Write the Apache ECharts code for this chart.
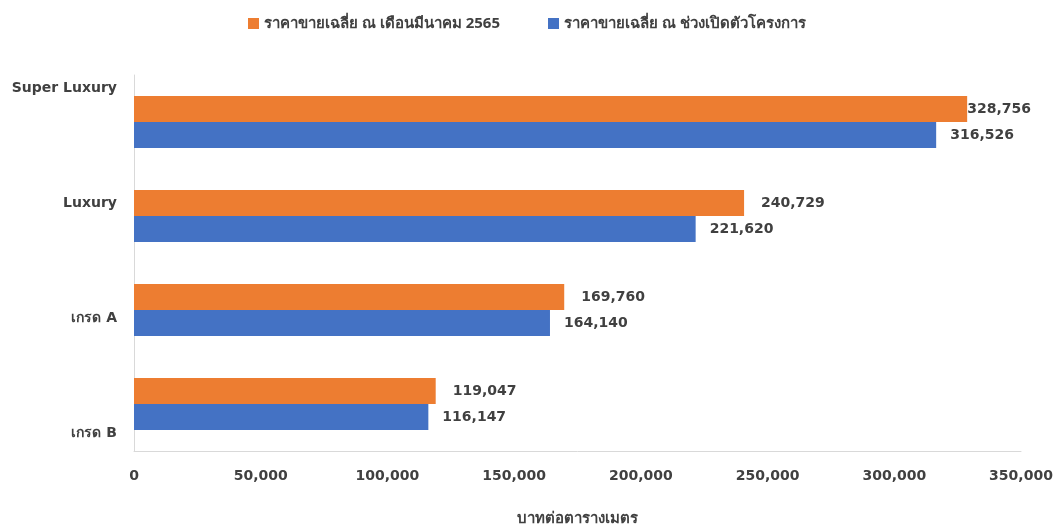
<!DOCTYPE html>
<html>
<head>
<meta charset="utf-8">
<script src="https://cdn.jsdelivr.net/npm/echarts@6/dist/echarts.min.js"></script>
<style>
  html, body { margin: 0; padding: 0; background: #ffffff; }
  #chart { width: 1055px; height: 527px; }
</style>
</head>
<body>
<div id="chart"></div>
<script>
// Price categories (top to bottom)
const categories = ['Super Luxury', 'Luxury', 'เกรด A', 'เกรด B'];

// Average selling price, THB per square metre
const seriesNames = ['ราคาขายเฉลี่ย ณ เดือนมีนาคม 2565', 'ราคาขายเฉลี่ย ณ ช่วงเปิดตัวโครงการ'];
const priceMar2022 = [328756, 240729, 169760, 119047];
const priceAtLaunch = [316526, 221620, 164140, 116147];

const axisTitle = 'บาทต่อตารางเมตร';

const FONT = '"DejaVu Sans", "Noto Sans", sans-serif';
const THAI_FONT = '"Noto Sans", "DejaVu Sans", sans-serif';
const TEXT = '#404040';
const fmt = v => v.toLocaleString('en-US');

const chart = echarts.init(document.getElementById('chart'), null, { renderer: 'canvas' });

// The longest bar's label sits flush against the bar end
function withLabels(values, distance) {
  const maxVal = Math.max(...priceMar2022, ...priceAtLaunch);
  return values.map(v => ({
    value: v,
    label: { distance: v === maxVal ? 0 : distance }
  }));
}

const labelText = { fontFamily: FONT, fontSize: 14, fontWeight: 'bold', color: TEXT };

chart.setOption({
  backgroundColor: '#ffffff',
  animation: false,
  textStyle: { fontFamily: FONT },
  legend: {
    top: 11,
    left: 243,
    itemWidth: 11,
    itemHeight: 11,
    itemGap: 48,
    icon: 'rect',
    textStyle: { fontFamily: THAI_FONT, fontSize: 15, fontWeight: 'bold', color: TEXT },
    data: seriesNames
  },
  grid: [
    { left: 134, right: 34, top: 75, bottom: 76, outerBoundsMode: 'none', containLabel: false },
    // label-only grid: category names are spread over a taller band
    { left: 134, right: 34, top: 31, bottom: 36, outerBoundsMode: 'none', containLabel: false }
  ],
  xAxis: [
    {
      gridIndex: 0,
      type: 'value',
      min: 0,
      max: 350000,
      interval: 50000,
      name: axisTitle,
      nameLocation: 'middle',
      nameGap: 60,
      nameTextStyle: { fontFamily: THAI_FONT, fontSize: 15, fontWeight: 'bold', color: TEXT },
      axisLine: { show: true, lineStyle: { color: '#d9d9d9', width: 1 } },
      axisTick: { show: false },
      splitLine: { show: false },
      axisLabel: Object.assign({ margin: 18, formatter: v => fmt(v) }, labelText)
    },
    { gridIndex: 1, type: 'value', show: false, min: 0, max: 350000 }
  ],
  yAxis: [
    {
      gridIndex: 0,
      type: 'category',
      inverse: true,
      data: categories,
      axisLine: { show: true, lineStyle: { color: '#d9d9d9', width: 1 } },
      axisTick: { show: false },
      axisLabel: { show: false }
    },
    {
      gridIndex: 1,
      type: 'category',
      inverse: true,
      data: categories,
      axisLine: { show: false },
      axisTick: { show: false },
      splitLine: { show: false },
      axisLabel: Object.assign({ margin: 17 }, labelText)
    }
  ],
  series: [
    {
      name: seriesNames[0],
      type: 'bar',
      xAxisIndex: 0,
      yAxisIndex: 0,
      data: withLabels(priceMar2022, 17),
      barWidth: 26,
      barGap: '0%',
      itemStyle: { color: '#ED7D31' },
      label: Object.assign({ show: true, position: 'right', formatter: p => fmt(p.value) }, labelText)
    },
    {
      name: seriesNames[1],
      type: 'bar',
      xAxisIndex: 0,
      yAxisIndex: 0,
      data: withLabels(priceAtLaunch, 14),
      barWidth: 26,
      barGap: '0%',
      itemStyle: { color: '#4472C4' },
      label: Object.assign({ show: true, position: 'right', formatter: p => fmt(p.value) }, labelText)
    }
  ]
});
</script>
</body>
</html>
